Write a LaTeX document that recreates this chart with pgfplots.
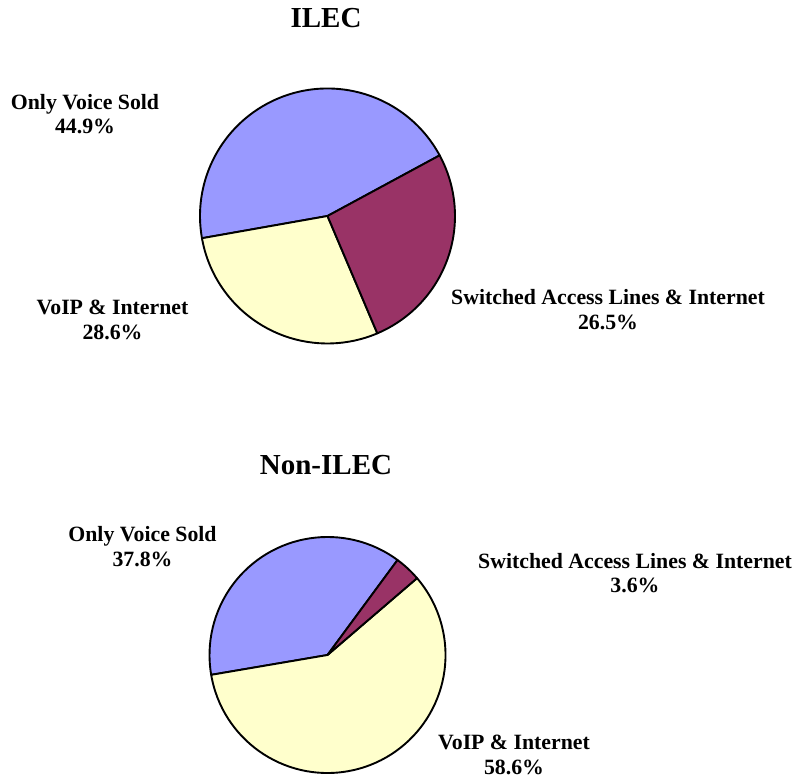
\documentclass[border=0pt]{standalone}
\usepackage{fontspec}
\setmainfont{Liberation Serif}
\usepackage{pgfplots}
\usepackage{pgfplotstable}
\pgfplotsset{compat=1.18}

\definecolor{voice}{HTML}{9999FF}
\definecolor{voip}{HTML}{FFFFCC}
\definecolor{switched}{HTML}{993366}

% share of each service (percent), in drawing order (counter-clockwise)
\pgfplotstableread{
label    pct   col
Voice    44.9  voice
VoIP     28.6  voip
Switched 26.5  switched
}\ilec
\pgfplotstableread{
label    pct   col
Voice    37.8  voice
VoIP     58.6  voip
Switched 3.6   switched
}\nonilec

% #1 table, #2 cx, #3 cy, #4 radius, #5 start angle
\newcommand\drawpie[5]{%
  \pgfplotstablegetrowsof{#1}%
  \pgfmathtruncatemacro\nrows{\pgfplotsretval-1}%
  \edef\cur{#5}%
  \pgfplotsforeachungrouped \i in {0,...,\nrows}{%
    \pgfplotstablegetelem{\i}{pct}\of{#1}\let\p\pgfplotsretval
    \pgfplotstablegetelem{\i}{col}\of{#1}\let\c\pgfplotsretval
    \pgfmathsetmacro\d{3.6*\p}%
    \edef\tmp{\noexpand\filldraw[fill=\c,draw=black,line width=1.9pt,line join=round]
      (axis cs:#2,#3) -- ++(\cur:#4pt) arc[start angle=\cur, delta angle=\d, radius=#4pt] -- cycle;}%
    \tmp
    \pgfmathsetmacro\cur{\cur+\d}%
  }%
}

\begin{document}
\begin{tikzpicture}
\begin{axis}[
  hide axis, scale only axis,
  width=796pt, height=777pt,
  xmin=0, xmax=796, ymin=0, ymax=777,
  clip=false,
]
\path (axis cs:0,0) rectangle (axis cs:796,777);
\drawpie{\ilec}{327.5}{561}{127.5}{28.4}
\drawpie{\nonilec}{327.5}{122}{118}{53.6}

\tikzset{lab/.style={font=\fontsize{21.8}{24.5}\selectfont\bfseries, align=center, inner sep=0pt}}
\node[font=\fontsize{29}{32}\selectfont\bfseries, inner sep=0pt] at (axis cs:326,759) {ILEC};
\node[lab] at (axis cs:85,663) {Only Voice Sold\\44.9\%};
\node[lab] at (axis cs:112.5,457) {VoIP \& Internet\\28.6\%};
\node[lab] at (axis cs:608,467.5) {Switched Access Lines \& Internet\\26.5\%};

\node[font=\fontsize{29}{32}\selectfont\bfseries, inner sep=0pt] at (axis cs:326,311.5) {Non-ILEC};
\node[lab] at (axis cs:142.5,230.5) {Only Voice Sold\\37.8\%};
\node[lab] at (axis cs:635,204) {Switched Access Lines \& Internet\\3.6\%};
\node[lab] at (axis cs:514,22) {VoIP \& Internet\\58.6\%};
\end{axis}
\end{tikzpicture}
\end{document}
